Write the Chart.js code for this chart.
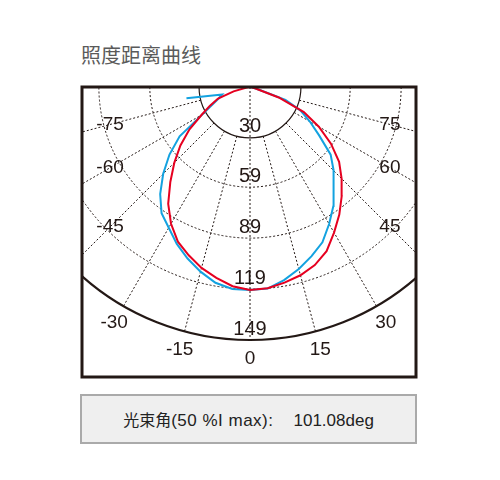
<!DOCTYPE html>
<html><head><meta charset="utf-8">
<script src="https://cdn.jsdelivr.net/npm/chart.js@4"></script>
<style>
html,body{margin:0;padding:0;background:#fff;}
#wrap{position:relative;width:500px;height:480px;overflow:hidden;}
#title{position:absolute;left:81px;top:43px;font-size:20px;line-height:24px;font-family:"Noto Sans CJK SC","Noto Sans",sans-serif;color:#5a5a5a;}
#info{position:absolute;left:80px;top:394px;width:337px;height:50px;box-sizing:border-box;border:2px solid #aaa;background:#efefef;text-align:center;line-height:47px;font-size:17px;font-family:"Liberation Sans","Noto Sans CJK SC",sans-serif;color:#222;white-space:nowrap;}
#info .a{font-family:"Noto Sans CJK SC",sans-serif;font-size:16px;}
#info .b{letter-spacing:0.5px;}
#info .c{margin-left:20px;}
canvas{position:absolute;left:0;top:0;}
</style></head>
<body>
<div id="wrap">
<div id="title">照度距离曲线</div>
<canvas id="c" width="500" height="480"></canvas>
<div id="info"><span class="a">光束角</span><span class="b">(50 %I max):</span><span class="c">101.08deg</span></div>
</div>
<script>
// ---- data ----
const radialTicks = [30, 59, 89, 119, 149];
const radialLabels = ['30', '59', '89', '119', '149'];
const angleTicks = [-75, -60, -45, -30, -15, 0, 15, 30, 45, 60, 75];
const angleLabels = ['-75', '-60', '-45', '-30', '-15', '0', '15', '30', '45', '60', '75'];

const redAngles = [-90,-85,-80,-75,-70,-65,-60,-55,-50,-45,-40,-35,-30,-25,-20,-15,-10,-5,0,5,10,15,20,25,30,35,40,45,50,55,60,65,70,75,80,85,90];
const redValues = [0,0.5,2,10,20,26,33,43.5,53.5,63,73,84,93,100.5,105.5,110.3,114.1,117.8,119.5,119,117,114.8,111.6,106.7,99,91.7,84,76.3,68.5,58.2,46.8,35,18,3,1,0.5,0];

const blueAngles = [-80,-75,-70,-65,-60,-55,-50,-45,-40,-35,-30,-25,-20,-15,-10,-5,0,5,10,15,20,25,30,35,40,45,50,55,60,65,70,75,80,85,90];
const blueValues = [38,17,19.7,24.4,32.5,50.6,61.9,72.3,82.3,90.8,95.7,102,107.5,112.6,117.1,119.4,119.5,119.2,115.5,111,106,100.9,93.2,85.6,76.9,69.3,62,49.7,40.7,32.9,22.2,4,1,0,0];

// polar (angle from downward vertical, value) -> chart data coordinates
function toXY(angles, values) {
  return angles.map((a, i) => {
    const t = a * Math.PI / 180;
    return { x: values[i] * Math.sin(t), y: -values[i] * Math.cos(t) };
  });
}

const INK = '#231815';

const polarGrid = {
  id: 'polarGrid',
  beforeDatasetsDraw(chart) {
    const { ctx, chartArea: ca, scales: { x, y } } = chart;
    const cx = x.getPixelForValue(0), cy = y.getPixelForValue(0);
    const R = v => x.getPixelForValue(v) - cx;
    const P = (v, a) => {
      const t = a * Math.PI / 180;
      return [x.getPixelForValue(v * Math.sin(t)), y.getPixelForValue(-v * Math.cos(t))];
    };
    ctx.save();
    ctx.beginPath(); ctx.rect(ca.left, ca.top, ca.width, ca.height); ctx.clip();
    ctx.strokeStyle = INK;
    ctx.lineWidth = 1;
    ctx.setLineDash([2, 2]);
    radialTicks.slice(1, -1).forEach(v => {
      ctx.beginPath(); ctx.arc(cx, cy, R(v), 0, Math.PI); ctx.stroke();
    });
    const rMin = radialTicks[0], rMax = radialTicks[radialTicks.length - 1];
    angleTicks.forEach(a => {
      const p0 = P(a === 0 ? 0 : rMin, a), p1 = P(rMax, a);
      ctx.beginPath(); ctx.moveTo(p0[0], p0[1]); ctx.lineTo(p1[0], p1[1]); ctx.stroke();
    });
    ctx.setLineDash([]);
    ctx.lineWidth = 1.2;
    ctx.beginPath(); ctx.arc(cx, cy, R(rMin), 0, Math.PI); ctx.stroke();
    ctx.lineWidth = 2.2;
    ctx.beginPath(); ctx.arc(cx, cy, R(rMax), 0, Math.PI); ctx.stroke();
    ctx.restore();
  },
  afterDraw(chart) {
    const { ctx, chartArea: ca, scales: { x, y } } = chart;
    const cx = x.getPixelForValue(0);
    ctx.save();
    ctx.fillStyle = INK;
    ctx.textAlign = 'center';
    ctx.textBaseline = 'middle';
    ctx.font = '20px "Liberation Sans", Arial, sans-serif';
    radialTicks.forEach((v, i) => {
      ctx.fillText(radialLabels[i], cx, y.getPixelForValue(-v) - 11);
    });
    ctx.font = '19px "Liberation Sans", Arial, sans-serif';
    angleTicks.forEach((a, i) => {
      const t = a * Math.PI / 180;
      let r = 160;
      if (Math.abs(r * Math.sin(t)) > 82.4) r = 82.4 / Math.abs(Math.sin(t));
      ctx.fillText(angleLabels[i], x.getPixelForValue(r * Math.sin(t)), y.getPixelForValue(-r * Math.cos(t)));
    });
    ctx.strokeStyle = INK;
    ctx.lineWidth = 3;
    ctx.strokeRect(ca.left, ca.top, ca.width, ca.height);
    ctx.restore();
  }
};

new Chart(document.getElementById('c'), {
  type: 'scatter',
  data: {
    datasets: [
      { label: 'red', data: toXY(redAngles, redValues), borderColor: '#e60020', borderWidth: 2, showLine: true, pointRadius: 0, tension: 0, fill: false },
      { label: 'blue', data: toXY(blueAngles, blueValues), borderColor: '#13a2e0', borderWidth: 2, showLine: true, pointRadius: 0, tension: 0, fill: false }
    ]
  },
  options: {
    responsive: false,
    animation: false,
    layout: { padding: { left: 82, right: 84, top: 87, bottom: 103 } },
    plugins: { legend: { display: false }, tooltip: { enabled: false }, title: { display: false } },
    scales: {
      x: { type: 'linear', min: -98.94, max: 97.76, display: false },
      y: { type: 'linear', min: -170.8, max: 0, display: false }
    }
  },
  plugins: [polarGrid]
});
</script>
</body></html>
